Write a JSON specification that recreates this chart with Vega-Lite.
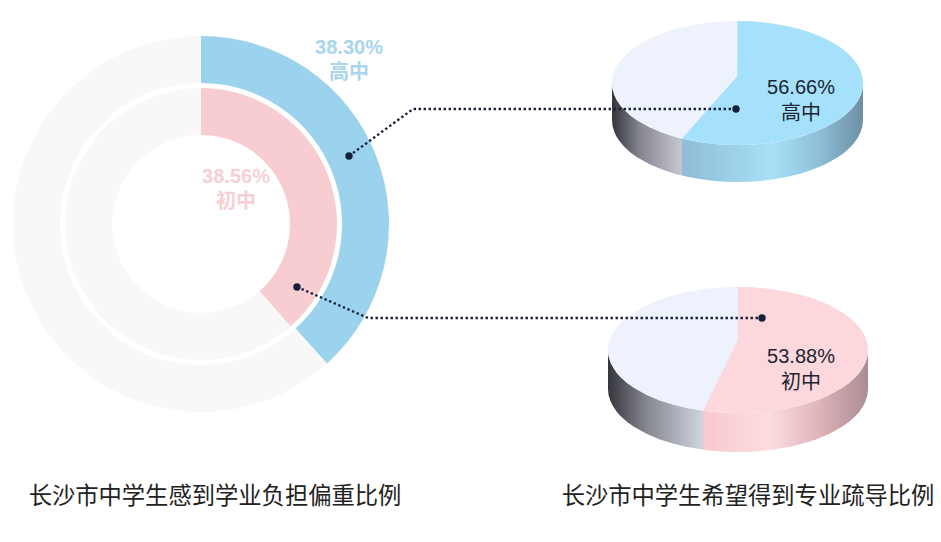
{
  "$schema": "https://vega.github.io/schema/vega-lite/v6.json",
  "width": 941,
  "height": 542,
  "padding": 0,
  "autosize": {"type": "fit", "contains": "padding"},
  "background": "white",
  "config": {"view": {"stroke": null}},
  "datasets": {
    "donut": [
      {"name": "其他", "start": 38.3, "end": 100, "inner": 141, "outer": 188, "x": 201, "y": 224},
      {"name": "其他", "start": 38.56, "end": 100, "inner": 89, "outer": 136, "x": 201, "y": 224},
      {"name": "高中", "start": 0, "end": 38.3, "inner": 141, "outer": 188, "x": 201, "y": 224},
      {"name": "初中", "start": 0, "end": 38.56, "inner": 89, "outer": 136, "x": 201, "y": 224}
    ],
    "pie1": [
      {"x": 612, "top": 83, "bottom": 83, "side": 120},
      {"x": 612.6, "top": 76.8, "bottom": 89.2, "side": 126.2},
      {"x": 614.5, "top": 70.7, "bottom": 95.3, "side": 132.3},
      {"x": 617, "top": 65.6, "bottom": 100.4, "side": 137.4},
      {"x": 620.8, "top": 60.2, "bottom": 105.8, "side": 142.8},
      {"x": 624.5, "top": 56, "bottom": 110, "side": 147},
      {"x": 630.8, "top": 50.3, "bottom": 115.7, "side": 152.7},
      {"x": 637.1, "top": 45.8, "bottom": 120.2, "side": 157.2},
      {"x": 649.6, "top": 38.7, "bottom": 127.3, "side": 164.3},
      {"x": 662.2, "top": 33.4, "bottom": 132.6, "side": 169.6},
      {"x": 674.7, "top": 29.3, "bottom": 136.7, "side": 173.7},
      {"x": 682, "top": 27.4, "bottom": 138.6, "side": 175.6},
      {"x": 687.3, "top": 26.2, "bottom": 139.8, "side": 176.8},
      {"x": 699.8, "top": 23.9, "bottom": 142.1, "side": 179.1},
      {"x": 712.4, "top": 22.2, "bottom": 143.8, "side": 180.8},
      {"x": 724.9, "top": 21.3, "bottom": 144.7, "side": 181.7},
      {"x": 737.5, "top": 21, "bottom": 145, "side": 182},
      {"x": 750.1, "top": 21.3, "bottom": 144.7, "side": 181.7},
      {"x": 762.6, "top": 22.2, "bottom": 143.8, "side": 180.8},
      {"x": 775.2, "top": 23.9, "bottom": 142.1, "side": 179.1},
      {"x": 787.7, "top": 26.2, "bottom": 139.8, "side": 176.8},
      {"x": 800.3, "top": 29.3, "bottom": 136.7, "side": 173.7},
      {"x": 812.8, "top": 33.4, "bottom": 132.6, "side": 169.6},
      {"x": 825.4, "top": 38.7, "bottom": 127.3, "side": 164.3},
      {"x": 837.9, "top": 45.8, "bottom": 120.2, "side": 157.2},
      {"x": 844.2, "top": 50.3, "bottom": 115.7, "side": 152.7},
      {"x": 850.5, "top": 56, "bottom": 110, "side": 147},
      {"x": 854.2, "top": 60.2, "bottom": 105.8, "side": 142.8},
      {"x": 858, "top": 65.6, "bottom": 100.4, "side": 137.4},
      {"x": 860.5, "top": 70.7, "bottom": 95.3, "side": 132.3},
      {"x": 862.4, "top": 76.8, "bottom": 89.2, "side": 126.2},
      {"x": 863, "top": 83, "bottom": 83, "side": 120}
    ],
    "slice1": [
      {"x": 682, "top": 138.6, "bottom": 138.6},
      {"x": 687.3, "top": 132.6, "bottom": 139.8},
      {"x": 699.8, "top": 118.5, "bottom": 142.1},
      {"x": 712.4, "top": 104.3, "bottom": 143.8},
      {"x": 724.9, "top": 90.2, "bottom": 144.7},
      {"x": 737.4, "top": 76, "bottom": 145},
      {"x": 737.5, "top": 21, "bottom": 145},
      {"x": 750.1, "top": 21.3, "bottom": 144.7},
      {"x": 762.6, "top": 22.2, "bottom": 143.8},
      {"x": 775.2, "top": 23.9, "bottom": 142.1},
      {"x": 787.7, "top": 26.2, "bottom": 139.8},
      {"x": 800.3, "top": 29.3, "bottom": 136.7},
      {"x": 812.8, "top": 33.4, "bottom": 132.6},
      {"x": 825.4, "top": 38.7, "bottom": 127.3},
      {"x": 837.9, "top": 45.8, "bottom": 120.2},
      {"x": 844.2, "top": 50.3, "bottom": 115.7},
      {"x": 850.5, "top": 56, "bottom": 110},
      {"x": 854.2, "top": 60.2, "bottom": 105.8},
      {"x": 858, "top": 65.6, "bottom": 100.4},
      {"x": 860.5, "top": 70.7, "bottom": 95.3},
      {"x": 862.4, "top": 76.8, "bottom": 89.2},
      {"x": 863, "top": 83, "bottom": 83}
    ],
    "pie2": [
      {"x": 608, "top": 350, "bottom": 350, "side": 389},
      {"x": 608.6, "top": 343.7, "bottom": 356.3, "side": 395.3},
      {"x": 610.6, "top": 337.5, "bottom": 362.5, "side": 401.5},
      {"x": 613.2, "top": 332.4, "bottom": 367.6, "side": 406.6},
      {"x": 617.1, "top": 326.8, "bottom": 373.2, "side": 412.2},
      {"x": 621, "top": 322.5, "bottom": 377.5, "side": 416.5},
      {"x": 627.5, "top": 316.8, "bottom": 383.2, "side": 422.2},
      {"x": 634, "top": 312.2, "bottom": 387.8, "side": 426.8},
      {"x": 647, "top": 305, "bottom": 395, "side": 434},
      {"x": 660, "top": 299.6, "bottom": 400.4, "side": 439.4},
      {"x": 673, "top": 295.4, "bottom": 404.6, "side": 443.6},
      {"x": 686, "top": 292.3, "bottom": 407.7, "side": 446.7},
      {"x": 699, "top": 289.9, "bottom": 410.1, "side": 449.1},
      {"x": 703, "top": 289.3, "bottom": 410.7, "side": 449.7},
      {"x": 712, "top": 288.3, "bottom": 411.7, "side": 450.7},
      {"x": 725, "top": 287.3, "bottom": 412.7, "side": 451.7},
      {"x": 738, "top": 287, "bottom": 413, "side": 452},
      {"x": 751, "top": 287.3, "bottom": 412.7, "side": 451.7},
      {"x": 764, "top": 288.3, "bottom": 411.7, "side": 450.7},
      {"x": 777, "top": 289.9, "bottom": 410.1, "side": 449.1},
      {"x": 790, "top": 292.3, "bottom": 407.7, "side": 446.7},
      {"x": 803, "top": 295.4, "bottom": 404.6, "side": 443.6},
      {"x": 816, "top": 299.6, "bottom": 400.4, "side": 439.4},
      {"x": 829, "top": 305, "bottom": 395, "side": 434},
      {"x": 842, "top": 312.2, "bottom": 387.8, "side": 426.8},
      {"x": 848.5, "top": 316.8, "bottom": 383.2, "side": 422.2},
      {"x": 855, "top": 322.5, "bottom": 377.5, "side": 416.5},
      {"x": 859, "top": 326.8, "bottom": 373.2, "side": 412.2},
      {"x": 862.8, "top": 332.4, "bottom": 367.6, "side": 406.6},
      {"x": 865.4, "top": 337.5, "bottom": 362.5, "side": 401.5},
      {"x": 867.4, "top": 343.7, "bottom": 356.3, "side": 395.3},
      {"x": 868, "top": 350, "bottom": 350, "side": 389}
    ],
    "slice2": [
      {"x": 703, "top": 410.7, "bottom": 410.7},
      {"x": 712, "top": 392.5, "bottom": 411.7},
      {"x": 725, "top": 366.3, "bottom": 412.7},
      {"x": 737.9, "top": 340, "bottom": 413},
      {"x": 738, "top": 287, "bottom": 413},
      {"x": 751, "top": 287.3, "bottom": 412.7},
      {"x": 764, "top": 288.3, "bottom": 411.7},
      {"x": 777, "top": 289.9, "bottom": 410.1},
      {"x": 790, "top": 292.3, "bottom": 407.7},
      {"x": 803, "top": 295.4, "bottom": 404.6},
      {"x": 816, "top": 299.6, "bottom": 400.4},
      {"x": 829, "top": 305, "bottom": 395},
      {"x": 842, "top": 312.2, "bottom": 387.8},
      {"x": 848.5, "top": 316.8, "bottom": 383.2},
      {"x": 855, "top": 322.5, "bottom": 377.5},
      {"x": 859, "top": 326.8, "bottom": 373.2},
      {"x": 862.8, "top": 332.4, "bottom": 367.6},
      {"x": 865.4, "top": 337.5, "bottom": 362.5},
      {"x": 867.4, "top": 343.7, "bottom": 356.3},
      {"x": 868, "top": 350, "bottom": 350}
    ],
    "leaders": [
      {"leader": "高中", "i": 0, "x": 349, "y": 156},
      {"leader": "高中", "i": 1, "x": 413, "y": 109},
      {"leader": "高中", "i": 2, "x": 736, "y": 109},
      {"leader": "初中", "i": 0, "x": 297, "y": 287},
      {"leader": "初中", "i": 1, "x": 368, "y": 318},
      {"leader": "初中", "i": 2, "x": 762, "y": 318}
    ],
    "dots": [
      {"x": 349, "y": 156},
      {"x": 736, "y": 109},
      {"x": 297, "y": 287},
      {"x": 762, "y": 318}
    ]
  },
  "encoding": {
    "x": {"field": "x", "type": "quantitative", "axis": null, "scale": {"domain": [0, 941], "range": [0, 941], "nice": false}}
  },
  "layer": [
    {
      "data": {"name": "donut"},
      "mark": {"type": "arc"},
      "encoding": {
        "y": {"field": "y", "type": "quantitative", "axis": null, "scale": {"domain": [0, 542], "range": [0, 542], "nice": false}},
        "theta": {"field": "start", "type": "quantitative", "stack": null, "scale": {"domain": [0, 100]}},
        "theta2": {"field": "end"},
        "radius": {"field": "outer", "type": "quantitative", "scale": {"type": "linear", "domain": [0, 188], "range": [0, 188]}},
        "radius2": {"field": "inner"},
        "color": {"field": "name", "type": "nominal", "legend": null, "scale": {"domain": ["高中", "初中", "其他"], "range": ["#9bd2ee", "#f8cdd2", "#f8f8f8"]}}
      }
    },
    {
      "data": {"name": "pie1"},
      "transform": [{"filter": "datum.x <= 682"}],
      "mark": {"type": "area", "color": {"gradient": "linear", "x1": 0, "x2": 1, "y1": 0, "y2": 0, "stops": [{"offset": 0, "color": "#33353b"}, {"offset": 0.4, "color": "#85868e"}, {"offset": 1, "color": "#c6c7d2"}]}},
      "encoding": {
        "y": {"field": "bottom", "type": "quantitative", "axis": null},
        "y2": {"field": "side"}
      }
    },
    {
      "data": {"name": "pie1"},
      "transform": [{"filter": "datum.x >= 682"}],
      "mark": {"type": "area", "color": {"gradient": "linear", "x1": 0, "x2": 1, "y1": 0, "y2": 0, "stops": [{"offset": 0, "color": "#90bcd6"}, {"offset": 0.5, "color": "#a8e0f8"}, {"offset": 0.75, "color": "#8fc0da"}, {"offset": 1, "color": "#6d8fa4"}]}},
      "encoding": {
        "y": {"field": "bottom", "type": "quantitative", "axis": null},
        "y2": {"field": "side"}
      }
    },
    {
      "data": {"name": "pie1"},
      "mark": {"type": "area", "color": "#eef2fd"},
      "encoding": {
        "y": {"field": "top", "type": "quantitative", "axis": null},
        "y2": {"field": "bottom"}
      }
    },
    {
      "data": {"name": "slice1"},
      "mark": {"type": "area", "color": "#a6e1fb"},
      "encoding": {
        "y": {"field": "top", "type": "quantitative", "axis": null},
        "y2": {"field": "bottom"}
      }
    },
    {
      "data": {"name": "pie2"},
      "transform": [{"filter": "datum.x <= 703"}],
      "mark": {"type": "area", "color": {"gradient": "linear", "x1": 0, "x2": 1, "y1": 0, "y2": 0, "stops": [{"offset": 0, "color": "#35363c"}, {"offset": 0.4, "color": "#85868e"}, {"offset": 1, "color": "#cfd5e0"}]}},
      "encoding": {
        "y": {"field": "bottom", "type": "quantitative", "axis": null},
        "y2": {"field": "side"}
      }
    },
    {
      "data": {"name": "pie2"},
      "transform": [{"filter": "datum.x >= 703"}],
      "mark": {"type": "area", "color": {"gradient": "linear", "x1": 0, "x2": 1, "y1": 0, "y2": 0, "stops": [{"offset": 0, "color": "#f8c8ce"}, {"offset": 0.4, "color": "#fcdde0"}, {"offset": 0.7, "color": "#e0b4ba"}, {"offset": 1, "color": "#a88d92"}]}},
      "encoding": {
        "y": {"field": "bottom", "type": "quantitative", "axis": null},
        "y2": {"field": "side"}
      }
    },
    {
      "data": {"name": "pie2"},
      "mark": {"type": "area", "color": "#eef2fc"},
      "encoding": {
        "y": {"field": "top", "type": "quantitative", "axis": null},
        "y2": {"field": "bottom"}
      }
    },
    {
      "data": {"name": "slice2"},
      "mark": {"type": "area", "color": "#fcd8dc"},
      "encoding": {
        "y": {"field": "top", "type": "quantitative", "axis": null},
        "y2": {"field": "bottom"}
      }
    },
    {
      "data": {"name": "leaders"},
      "mark": {"type": "line", "color": "#16203a", "strokeWidth": 2.4, "strokeDash": [2.4, 2.6]},
      "encoding": {
        "y": {"field": "y", "type": "quantitative", "axis": null},
        "detail": {"field": "leader"},
        "order": {"field": "i"}
      }
    },
    {
      "data": {"name": "dots"},
      "mark": {"type": "point", "filled": true, "opacity": 1, "color": "#16203a", "size": 55},
      "encoding": {
        "y": {"field": "y", "type": "quantitative", "axis": null}
      }
    },
    {
      "data": {"values": [
        {"label": "38.30%", "x": 349, "y": 48},
        {"label": "高中", "x": 349, "y": 73}
      ]},
      "mark": {"type": "text", "color": "#a9d6ec", "font": "Liberation Sans, Noto Sans CJK SC", "fontSize": 20, "fontWeight": "bold"},
      "encoding": {
        "y": {"field": "y", "type": "quantitative", "axis": null},
        "text": {"field": "label"}
      }
    },
    {
      "data": {"values": [
        {"label": "38.56%", "x": 236, "y": 177},
        {"label": "初中", "x": 236, "y": 202}
      ]},
      "mark": {"type": "text", "color": "#f6d0d5", "font": "Liberation Sans, Noto Sans CJK SC", "fontSize": 20, "fontWeight": "bold"},
      "encoding": {
        "y": {"field": "y", "type": "quantitative", "axis": null},
        "text": {"field": "label"}
      }
    },
    {
      "data": {"values": [
        {"label": "56.66%", "x": 801, "y": 88},
        {"label": "高中", "x": 801, "y": 114},
        {"label": "53.88%", "x": 801, "y": 357},
        {"label": "初中", "x": 801, "y": 383}
      ]},
      "mark": {"type": "text", "color": "#1c2530", "font": "Liberation Sans, Noto Sans CJK SC", "fontSize": 20},
      "encoding": {
        "y": {"field": "y", "type": "quantitative", "axis": null},
        "text": {"field": "label"}
      }
    },
    {
      "data": {"values": [
        {"label": "长沙市中学生感到学业负担偏重比例", "x": 215, "y": 497},
        {"label": "长沙市中学生希望得到专业疏导比例", "x": 748, "y": 497}
      ]},
      "mark": {"type": "text", "color": "#222222", "font": "Noto Sans CJK SC", "fontSize": 23.3},
      "encoding": {
        "y": {"field": "y", "type": "quantitative", "axis": null},
        "text": {"field": "label"}
      }
    }
  ]
}
